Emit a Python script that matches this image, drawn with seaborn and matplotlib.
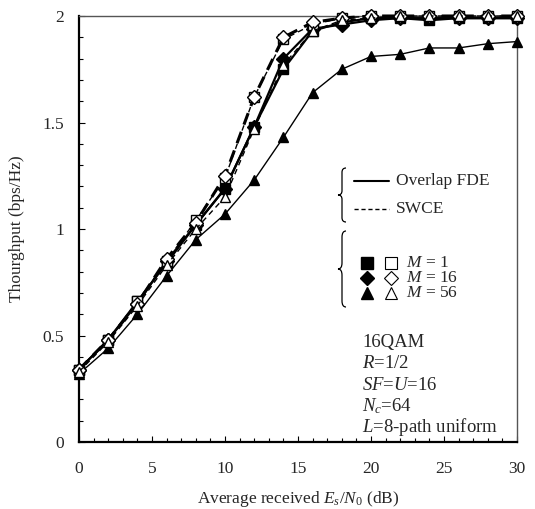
import numpy as np
import pandas as pd
import seaborn as sns
import matplotlib.pyplot as plt
from matplotlib.lines import Line2D
from matplotlib.path import Path
from matplotlib.patches import PathPatch

snr = [0, 2, 4, 6, 8, 10, 12, 14, 16, 18, 20, 22, 24, 26, 28, 30]

fde_m1 = [0.34, 0.48, 0.66, 0.84, 1.02, 1.19, 1.48, 1.75, 1.93, 1.97, 1.99, 1.99, 1.98, 1.99, 1.99, 1.99]
fde_m16 = [0.34, 0.48, 0.65, 0.85, 1.02, 1.19, 1.48, 1.80, 1.94, 1.96, 1.98, 1.99, 1.99, 1.99, 1.99, 1.99]
fde_m56 = [0.32, 0.44, 0.60, 0.78, 0.95, 1.07, 1.23, 1.43, 1.64, 1.75, 1.81, 1.82, 1.85, 1.85, 1.87, 1.88]
swce_m1 = [0.34, 0.48, 0.66, 0.85, 1.04, 1.24, 1.62, 1.89, 1.96, 1.99, 2.00, 2.00, 2.00, 2.00, 2.00, 2.00]
swce_m16 = [0.34, 0.48, 0.65, 0.86, 1.03, 1.25, 1.62, 1.90, 1.97, 1.99, 2.00, 2.00, 2.00, 2.00, 2.00, 2.00]
swce_m56 = [0.33, 0.47, 0.64, 0.83, 1.00, 1.15, 1.47, 1.77, 1.93, 1.98, 1.99, 2.00, 2.00, 2.00, 2.00, 2.00]

sns.set_style("ticks")
plt.rcParams['font.family'] = ['Liberation Serif', 'DejaVu Serif']
plt.rcParams['mathtext.fontset'] = 'custom'
plt.rcParams['mathtext.rm'] = 'Liberation Serif'
plt.rcParams['mathtext.it'] = 'Liberation Serif:italic'

rows = []
for name, vals in [("fde_m1", fde_m1), ("fde_m16", fde_m16), ("fde_m56", fde_m56),
                   ("swce_m1", swce_m1), ("swce_m16", swce_m16), ("swce_m56", swce_m56)]:
    for x, y in zip(snr, vals):
        rows.append({"series": name, "snr": x, "thr": y})
df = pd.DataFrame(rows)

fig = plt.figure(figsize=(5.35, 5.09), dpi=100)
ax = fig.add_axes([79/535, 67/509, 438/535, 426/509])

# style per series: marker, filled, linestyle, linewidth
styles = {
    "fde_m1": ("s", True, "-", 1.6),
    "fde_m16": ("D", True, "-", 1.6),
    "fde_m56": ("^", True, "-", 1.0),
    "swce_m1": ("s", False, (0, (4, 3)), 1.0),
    "swce_m16": ("D", False, (0, (4, 2.5)), 2.2),
    "swce_m56": ("^", False, (0, (4, 3)), 1.0),
}
for name, (mk, filled, ls, lw) in styles.items():
    sns.lineplot(data=df[df.series == name], x="snr", y="thr", ax=ax, color="black",
                 marker=mk, markersize=7.5 if mk != "D" else 7,
                 markerfacecolor="black" if filled else "white",
                 markeredgecolor="black", markeredgewidth=1.0,
                 linestyle=ls, linewidth=lw, clip_on=False, zorder=3)

ax.set_xlim(0, 30)
ax.set_ylim(0, 2)
ax.set_xticks(np.arange(0, 31, 5))
ax.set_xticks(np.arange(0, 31, 1), minor=True)
ax.set_yticks([0, 0.5, 1, 1.5, 2])
ax.set_yticklabels(["0", "0.5", "1", "1.5", "2"])
ax.set_yticks(np.arange(0, 2.01, 0.1), minor=True)
ax.tick_params(axis="both", which="both", direction="in", labelsize=12.5, width=0.8, color="black")
ax.tick_params(axis="both", which="major", length=4)
ax.tick_params(axis="both", which="minor", length=3)
ax.tick_params(axis="x", pad=14)
ax.tick_params(axis="y", pad=11)
for s in ["left", "bottom"]:
    ax.spines[s].set_linewidth(1.6)
    ax.spines[s].set_color("black")
for s in ["top", "right"]:
    ax.spines[s].set_linewidth(1.0)
    ax.spines[s].set_color("#555555")

ax.set_xlabel("Average received $E_s$/$N_0$ (dB)", fontsize=12.5, labelpad=8)
ax.set_ylabel("Thourghput (bps/Hz)", fontsize=12.5, labelpad=12)

def px(x, y):
    return ((x - 79) / 438, (442 - y) / 426)

def brace(x0, y_top, y_bot, w=8):
    xl, yt = px(x0, y_top)
    _, yb = px(x0, y_bot)
    xr = px(x0 + w, y_top)[0]
    xm = (xl + xr) / 2
    ym = (yt + yb) / 2
    dy = (yt - yb) * 0.08
    verts = [(xr, yt), (xm, yt), (xm, yt - dy), (xm, ym + dy), (xm, ym), (xl, ym),
             (xm, ym), (xm, ym - dy), (xm, yb + dy), (xm, yb), (xr, yb)]
    codes = [Path.MOVETO, Path.CURVE3, Path.CURVE3, Path.LINETO, Path.CURVE3, Path.CURVE3,
             Path.CURVE3, Path.CURVE3, Path.LINETO, Path.CURVE3, Path.CURVE3]
    ax.add_patch(PathPatch(Path(verts, codes), transform=ax.transAxes, fill=False,
                           lw=0.9, color="black", clip_on=False))

# line style key
brace(338, 168, 222)
for yy, ls, lab in [(181, "-", "Overlap FDE"), (209, (0, (3, 2)), "SWCE")]:
    x1, y1 = px(354, yy)
    x2, _ = px(389, yy)
    ax.add_line(Line2D([x1, x2], [y1, y1], transform=ax.transAxes, color="black",
                       lw=1.5 if ls == "-" else 1.0, linestyle=ls))
    tx, _ = px(396, yy)
    ax.text(tx, y1, lab, transform=ax.transAxes, fontsize=12.5, va="center", ha="left")

# marker key
brace(338, 231, 307)
for yy, mk, lab in [(263, "s", "$M$ = 1"), (278, "D", "$M$ = 16"), (293, "^", "$M$ = 56")]:
    fx, fy = px(367, yy)
    ox, _ = px(391, yy)
    ms = 8 if mk != "D" else 7.5
    ax.plot([fx], [fy], marker=mk, color="black", markersize=ms, transform=ax.transAxes, clip_on=False)
    ax.plot([ox], [fy], marker=mk, color="black", markerfacecolor="white", markersize=ms,
            markeredgewidth=0.8, transform=ax.transAxes, clip_on=False)
    tx, _ = px(406, yy)
    ax.text(tx, fy, lab, transform=ax.transAxes, fontsize=12.5, va="center", ha="left")

# simulation parameters
params = ["16QAM", "$R$=1/2", "$SF$=$U$=16", "$N_c$=64", "$L$=8-path uniform"]
for yy, lab in zip([342, 364, 386, 406, 427], params):
    tx, ty = px(362, yy)
    ax.text(tx, ty, lab, transform=ax.transAxes, fontsize=13.5, va="center", ha="left")

fig.savefig("out.png", dpi=100)
